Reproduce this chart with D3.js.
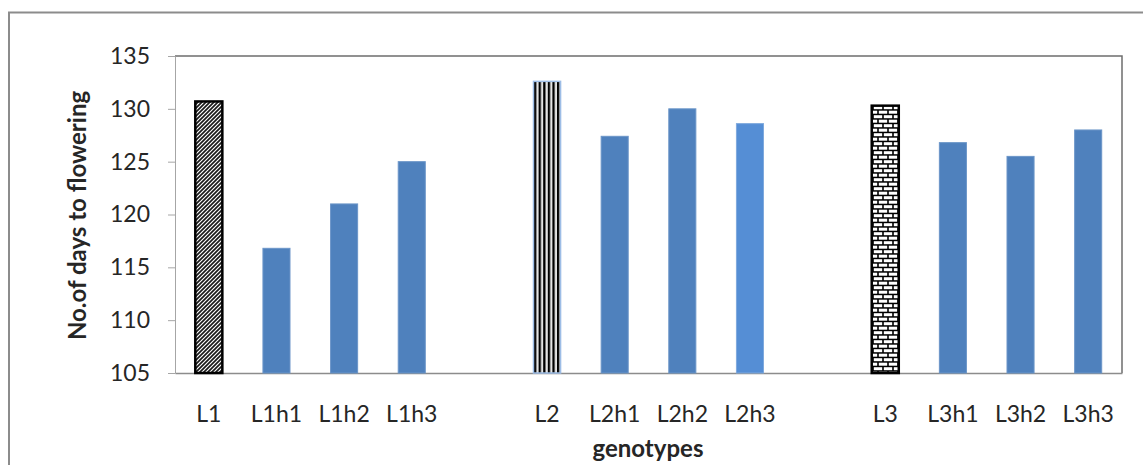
<!doctype html>
<html>
<head>
<meta charset="utf-8"/>
<title>No. of days to flowering</title>
<script src="https://cdnjs.cloudflare.com/ajax/libs/d3/7.8.5/d3.min.js"></script>
<style>
  body { margin: 0; background: #fff; }
  text { font-family: Lato, "Open Sans", sans-serif; fill: #262626; }
  .tick text { font-size: 23px; }
  .axis-title { font-size: 24px; font-weight: bold; }
</style>
</head>
<body>
<svg width="1143" height="465"></svg>
<script>
// genotypes, read left to right, four per line
var genotypes = ["L1", "L1h1", "L1h2", "L1h3",
                 "L2", "L2h1", "L2h2", "L2h3",
                 "L3", "L3h1", "L3h2", "L3h3"];
var daysToFlowering = [130.7, 116.8, 121.0, 125.0,
                       132.6, 127.4, 130.0, 128.6,
                       130.3, 126.8, 125.5, 128.0];
var yTicks = [105, 110, 115, 120, 125, 130, 135];

var svg = d3.select("svg");
var plot = {left: 175, right: 1122, top: 56, bottom: 373};

// empty slot after each line of four
var slots = [];
genotypes.forEach(function(g, i) {
  slots.push(g);
  if (i % 4 == 3 && i < genotypes.length - 1) slots.push("gap" + i);
});

var x = d3.scaleBand().domain(slots).range([plot.left, plot.right])
  .paddingInner(0.6).paddingOuter(0.3);
var y = d3.scaleLinear().domain([105, 135]).range([plot.bottom, plot.top]);

// patterns for the parent lines
var defs = svg.append("defs");
var diag = defs.append("pattern").attr("id", "diag")
  .attr("patternUnits", "userSpaceOnUse").attr("width", 4).attr("height", 4);
diag.append("rect").attr("width", 4).attr("height", 4).attr("fill", "#fff");
diag.append("path").attr("d", "M-1,1 l2,-2 M0,4 l4,-4 M3,5 l2,-2")
  .attr("stroke", "#1a1a1a").attr("stroke-width", 1.7);

var vert = defs.append("pattern").attr("id", "vert")
  .attr("patternUnits", "userSpaceOnUse").attr("width", 4.6).attr("height", 10)
  .attr("x", 534);
vert.append("rect").attr("width", 4.6).attr("height", 10).attr("fill", "#e4e4e4");
vert.append("rect").attr("width", 2.3).attr("height", 10).attr("fill", "#000");

var brick = defs.append("pattern").attr("id", "brick")
  .attr("patternUnits", "userSpaceOnUse").attr("width", 10).attr("height", 9)
  .attr("x", 873).attr("y", 105);
brick.append("rect").attr("width", 10).attr("height", 9).attr("fill", "#000");
brick.append("rect").attr("x", 0.8).attr("y", 1.2).attr("width", 8.4).attr("height", 3).attr("fill", "#fff");
brick.append("rect").attr("x", -4.2).attr("y", 5.7).attr("width", 8.4).attr("height", 3).attr("fill", "#fff");
brick.append("rect").attr("x", 5.8).attr("y", 5.7).attr("width", 8.4).attr("height", 3).attr("fill", "#fff");

var barStyle = {
  L1: {fill: "url(#diag)", stroke: "#000", sw: 2.5},
  L2: {fill: "url(#vert)", stroke: "#9dbde6", sw: 1.5},
  L3: {fill: "url(#brick)", stroke: "#000", sw: 2.5},
  L2h3: {fill: "#558ed5", stroke: "#7fa9dd", sw: 1}
};
var defaultStyle = {fill: "#4f81bd", stroke: "#6b95c8", sw: 1};

// outer chart frame
svg.append("path").attr("d", "M9,470 V12.5 H1150")
  .attr("fill", "none").attr("stroke", "#8c8c8c").attr("stroke-width", 2);

// plot area border top/right
svg.append("path")
  .attr("d", "M" + plot.left + "," + plot.top + " H" + plot.right + " V" + plot.bottom)
  .attr("fill", "none").attr("stroke", "#6e6e6e").attr("stroke-width", 1.5);

var yAxis = svg.append("g").attr("transform", "translate(" + plot.left + ",0)")
  .call(d3.axisLeft(y).tickValues(yTicks).tickSize(7).tickSizeOuter(0).tickPadding(18));
yAxis.selectAll("line, path").attr("stroke", "#a6a6a6");
yAxis.selectAll("text").attr("fill", "#262626");

var xAxis = svg.append("g").attr("transform", "translate(0," + plot.bottom + ")")
  .call(d3.axisBottom(x).tickSize(0).tickSizeOuter(0).tickPadding(33)
    .tickFormat(function(d) { return d.indexOf("gap") == 0 ? "" : d; }));
xAxis.select("path").attr("stroke", "#8c8c8c").attr("stroke-width", 1.5);
xAxis.selectAll("text").attr("fill", "#262626");

svg.append("g").selectAll("rect")
  .data(genotypes)
  .enter()
  .append("rect")
  .attr("x", function(d) { return x(d); })
  .attr("width", x.bandwidth())
  .attr("y", function(d, i) { return y(daysToFlowering[i]); })
  .attr("height", function(d, i) { return y(105) - y(daysToFlowering[i]); })
  .attr("fill", function(d) { return (barStyle[d] || defaultStyle).fill; })
  .attr("stroke", function(d) { return (barStyle[d] || defaultStyle).stroke; })
  .attr("stroke-width", function(d) { return (barStyle[d] || defaultStyle).sw; });

svg.append("text").attr("class", "axis-title")
  .attr("transform", "translate(86," + ((plot.top + plot.bottom) / 2 + 1) + ") rotate(-90)")
  .attr("text-anchor", "middle")
  .text("No.of days to flowering");

svg.append("text").attr("class", "axis-title")
  .attr("x", 648).attr("y", 457)
  .attr("text-anchor", "middle")
  .text("genotypes");
</script>
</body>
</html>
